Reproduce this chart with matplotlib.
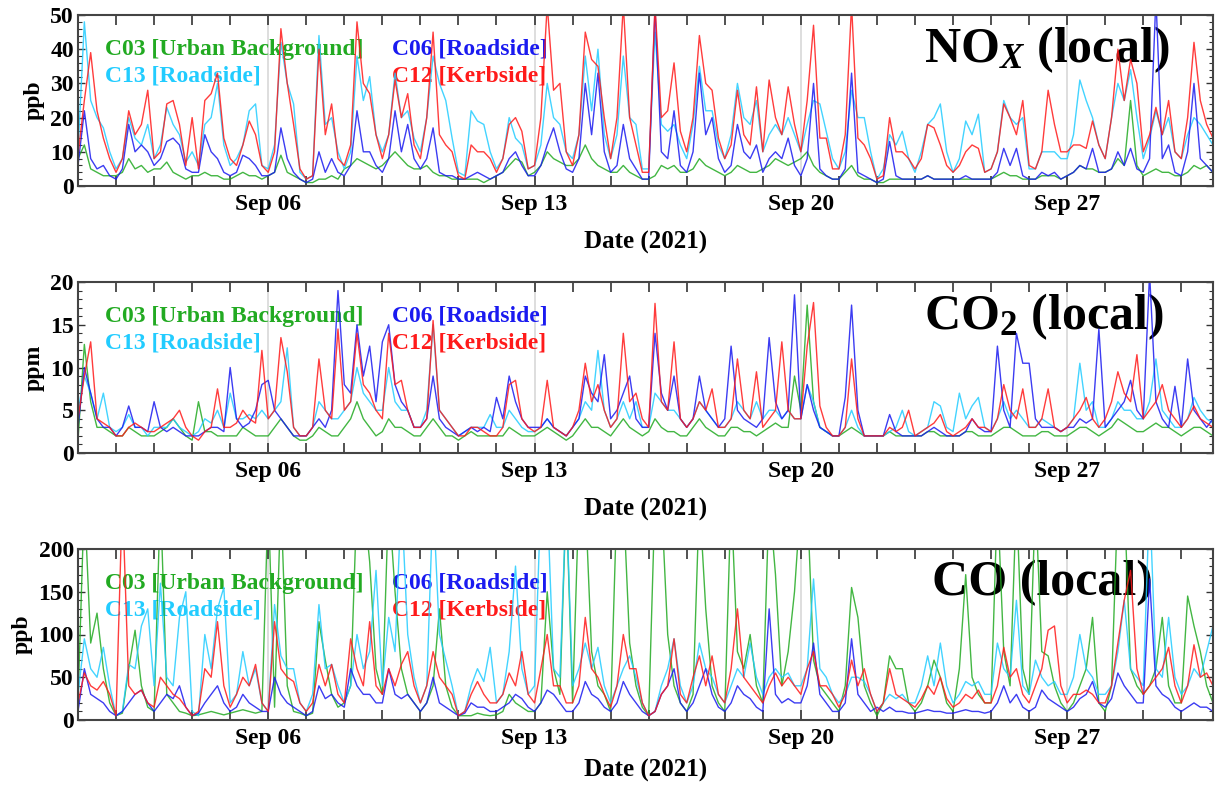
import matplotlib
matplotlib.use("Agg")
import matplotlib.pyplot as plt
import matplotlib.dates as mdates
import numpy as np
import pandas as pd

plt.rcParams['font.family'] = ['Liberation Serif', 'DejaVu Serif']
plt.rcParams['font.weight'] = 'bold'
plt.rcParams['mathtext.fontset'] = 'custom'
plt.rcParams['mathtext.rm'] = 'Liberation Serif:bold'
plt.rcParams['mathtext.it'] = 'Liberation Serif:bold:italic'
plt.rcParams['mathtext.bf'] = 'Liberation Serif:bold'

# ---- data: 4-hourly values (00,04,08,12,16,20 h), Sep 1 - Sep 30 2021 ----
start_date = "2021-09-01 00:00"
step = "4h"

series_names = ["C03 [Urban Background]", "C13 [Roadside]", "C06 [Roadside]", "C12 [Kerbside]"]

nox_c03 = [8,12,5,4,3,3, 3,4,8,5,6,4, 5,5,7,4,3,2, 3,3,4,3,3,2, 2,3,4,3,3,2,
           3,4,9,4,3,2, 1,1,2,2,3,2, 5,6,8,7,6,5, 6,8,10,8,6,5, 5,6,4,3,3,2,
           2,2,2,2,1,2, 3,4,6,8,7,3, 4,6,10,8,7,6, 6,8,12,8,6,5, 4,4,6,4,3,2,
           2,3,6,5,6,4, 4,5,8,6,5,4, 3,4,6,5,4,4, 5,6,8,7,6,7, 8,10,6,4,3,2,
           2,4,6,3,2,2, 1,1,2,2,2,2, 2,2,3,2,2,2, 2,2,2,2,2,2, 2,3,4,3,3,2,
           2,2,3,3,3,2, 3,4,6,5,5,4, 4,5,8,6,25,6, 3,4,5,4,4,3, 3,4,6,5,6,4]
nox_c13 = [10,48,25,20,17,10, 5,8,20,14,12,18, 8,12,23,18,15,7, 10,6,18,20,30,12, 6,8,12,22,24,6,
           5,12,42,30,24,4, 2,3,44,18,20,10, 5,10,38,25,32,15, 10,15,33,20,22,14, 10,20,38,30,25,14,
           4,3,22,19,18,10, 5,8,20,14,12,5, 6,12,30,20,18,10, 8,15,38,22,40,15, 8,15,38,20,18,5,
           5,45,18,16,18,12, 8,18,35,22,22,12, 8,15,30,20,18,25, 10,15,18,15,20,15, 10,18,25,24,16,8,
           5,10,28,20,20,10, 2,5,15,12,16,8, 4,10,18,20,24,10, 4,8,19,15,21,4, 5,10,25,20,18,20,
           5,5,10,10,10,8, 8,15,31,25,20,12, 8,20,30,25,34,20, 8,14,22,15,20,10, 8,15,20,18,15,12]
nox_c06 = [6,22,8,5,6,3, 2,5,18,10,12,10, 6,8,13,14,12,5, 4,4,15,10,8,4, 3,4,9,8,6,3,
           3,4,17,8,4,2, 1,2,10,4,8,4, 3,6,22,10,10,6, 4,8,22,10,18,8, 5,8,17,4,3,3,
           2,2,3,4,3,2, 3,4,8,10,6,3, 3,6,12,17,10,5, 4,8,30,15,33,10, 4,6,18,8,5,2,
           2,52,10,8,22,6, 4,10,33,15,20,8, 4,6,18,10,8,12, 4,8,10,8,14,6, 3,8,30,5,3,2,
           2,5,33,4,3,2, 1,2,13,3,2,2, 2,2,3,2,2,2, 2,2,3,2,2,2, 2,4,11,6,11,3,
           2,2,4,3,4,2, 3,4,6,5,11,4, 4,5,10,6,11,5, 4,8,55,8,12,4, 3,10,30,8,6,4]
nox_c12 = [9,25,39,22,14,8, 4,8,22,15,18,28, 8,10,24,25,18,6, 20,5,25,27,33,14, 8,6,12,19,15,6,
           4,10,46,30,18,5, 2,3,40,15,24,8, 6,12,48,30,27,15, 8,15,31,20,27,12, 8,20,45,15,12,10,
           3,2,12,10,10,8, 4,8,18,20,16,5, 6,20,53,28,30,10, 6,15,45,37,35,20, 8,20,53,20,12,4,
           4,53,20,22,36,16, 10,20,44,30,28,14, 8,12,28,15,12,29, 10,31,20,15,29,18, 10,25,47,14,14,5,
           5,15,53,14,12,8, 2,3,20,10,10,8, 5,8,18,17,12,6, 4,6,10,12,11,4, 5,10,24,20,15,25,
           6,5,10,28,18,10, 10,12,12,11,19,12, 8,20,40,25,37,30, 10,15,23,15,25,10, 8,20,42,25,18,14]

co2_c03 = [1.5,12.7,6,3,3,2.5, 2,2,3,2.5,2,2, 2,2.5,3,4,3,2, 1.5,6,2.5,2.5,2,2, 2,2,3,2.5,2,2,
           2,3,4,3,2,1.5, 1.5,2,3,2.5,2,2, 3,4,6,4,3,2, 2.5,4,3,3,2.5,2, 2,3,4,3,2,2,
           1.5,2,2.5,2,2,2, 2,2,3,2.5,2,2, 2,2.5,3,2.5,2,1.5, 2,3,4,3,3,2.5, 2,3,4,3,2.5,2,
           2.5,4,3,2.5,2.5,2, 2,3,4,3,2.5,2, 2,3,3,2.5,2.5,2, 2.5,3,3.5,3,3,9, 5,17.3,6,3,2.5,2,
           2,2.5,3,2.5,2,2, 2,2,2.5,2,2,2, 2,2,2.5,2.5,2,2, 2,2,2.5,2.5,2,2, 2,2.5,3,3,2.5,2,
           2,2,2.5,2.5,2,2, 2,2.5,3,3,2.5,2, 2.5,3,4,3.5,3,2.5, 2.5,3,3.5,3,3,2.5, 2,2.5,3,3,2.5,2]
co2_c13 = [5,9,7,4,7,3, 2.5,3,4.5,3,3,2, 3,3,3,4,3,2.5, 2,2.5,4,3.5,5,3, 7,4,4,4.5,4,5,
           4,5,6,12.3,3,2, 2,3,6,5,4,4, 5,6,10,7,6,5, 5,10,6,5,5,3, 3,5,15,5,4,3,
           2,2.5,3,3,3,4.5, 3,3,5,4,3,2.5, 2.5,3,4,3,2.5,2, 3,4,6,5,12,5, 3,4,6,4,6,3,
           3,7,6,5,5,4, 3,4,6,5,4,3, 3,4,6,5,4,6, 4,5,5,4,5,4, 4,8,6,3,2.5,2,
           2,3,5,3,2,2, 2,2,2.5,3,5,2.5, 2,2.5,3,6,5.5,3, 2.5,7,4,5.5,6.5,3, 2.5,4,6,4,5,4,
           3,3,4,3.5,3,2.5, 3,4,10.5,5,6,3, 3,4,6,5,5,4, 4,6,11,5,4,3, 3,4,6.5,5,4,3.5]
co2_c06 = [3,10,7,4,3,3, 2,3,5.5,3,3,2.5, 6,3,2.5,3,2.5,2, 2,2,2.5,3,3,2.5, 10,4,3,3.5,5,8,
           8.5,5,4,3,2,2, 2,3,4,3,5,19, 8,7,15,9,12.5,6, 13,15,8,6,5,3, 3,4,9,4,3,2.5,
           2,2.5,3,2.5,3,2.5, 6.5,4,9,6,4,3, 3,3,4,3,2.5,2, 3,4,9,7,6,11.5, 4,5,7,9,4,3,
           3,14,7,5,9,4, 3,4,9,5,4,3, 4,12.5,5,4,3.5,3, 4,13.5,6,4,5,18.5, 4,8,5,3,2.5,2,
           2,6.5,17.3,5,2,2, 2,2,4.5,2.5,2,2, 2,2,2.5,3,2.5,2, 2,2,2.5,4,3,2.5, 2.5,12.5,5,3,14,10.5,
           10.5,4,3,3,3,2.5, 3,3,4,3.5,4,14.5, 3,4,5,6,8.5,5, 4,21,6,4,3,7.8, 3,11,5,4,3,4]
co2_c12 = [4,9,13,4,3.5,3, 2,2,3,3.5,3,2.5, 2.5,3,3.5,4,5,3, 2,1.5,2.5,3,7.5,3, 3,3.5,5,4,3.5,12,
           4,5,13.5,9.5,3,2, 2,3,11,5,4,14.5, 5,6,14,8,7,5, 4,14,8,8.5,5,3, 3,4,15.5,5,4,3,
           2,2,3,3,2.5,2, 2,3,8,8.5,4,3, 2.5,3,8.5,3,2.5,2, 3,5,10.5,6,8,5, 3,4,14,6,7,4,
           3,17.5,6,5,13,4, 3,4,6,5,7.5,3, 3,4,11,5,4,9.5, 3,4,5,13,5,4, 4,12.5,17.6,5.5,3,2,
           2,3,11,4,2,2, 2,2,3,2.5,3,5, 2,2.5,3,3.5,4.5,2.5, 2,2.5,3,4,3,3, 2.5,4,8,5,4,7.5,
           3,3,4,7.5,3,2.5, 3,4,5,6.5,4,3, 4,6,9.5,7,6,11.5, 4,5,6,8,5,4, 3,4,5.5,4,3.5,3]

co_c03 = [20,260,90,125,60,20, 5,8,60,105,40,15, 10,260,30,20,10,8, 5,6,8,10,8,6, 8,10,12,10,8,10,
          260,15,260,40,10,8, 5,8,115,70,30,15, 20,40,260,260,185,60, 30,260,150,60,30,20, 10,20,40,130,40,15,
          5,5,5,8,6,5, 6,10,30,20,15,10, 10,20,150,60,30,260, 20,260,260,80,40,30, 10,260,260,90,40,15,
          5,260,260,100,40,20, 10,30,260,130,40,20, 10,260,80,60,100,40, 20,260,170,40,80,150, 260,260,70,40,30,20,
          10,40,155,120,40,20, 5,20,75,60,60,20, 10,20,40,70,50,20, 10,60,170,50,30,20, 20,260,80,40,260,60,
          30,260,80,75,40,20, 10,20,40,60,120,20, 10,40,260,260,60,40, 30,40,60,120,40,20, 20,145,110,80,40,20]
co_c13 = [30,95,60,50,85,40, 5,10,65,60,110,130, 40,160,50,40,120,150, 10,5,100,60,130,155, 20,30,80,40,60,20,
          10,135,75,60,60,20, 10,30,135,60,65,40, 20,40,100,60,80,175, 40,120,80,260,100,50, 20,40,260,100,70,40,
          5,10,40,60,45,85, 20,30,80,180,60,30, 40,260,260,60,50,260, 40,60,90,60,85,40, 20,40,60,75,50,20,
          5,10,40,60,95,40, 20,40,90,60,50,30, 20,40,60,50,90,50, 30,50,60,50,55,40, 40,60,165,60,50,30,
          20,30,50,50,45,30, 10,20,30,25,30,20, 20,40,75,40,90,40, 20,30,45,40,45,30, 30,90,60,50,140,40,
          30,70,50,40,45,30, 30,50,100,60,50,30, 30,40,80,140,60,50, 40,260,60,50,120,50, 30,40,60,50,80,110]
co_c06 = [10,60,30,25,20,10, 5,10,20,30,35,20, 10,20,30,25,40,15, 5,8,20,30,40,20, 10,15,30,20,15,10,
          10,50,30,20,15,10, 5,10,40,25,30,20, 15,60,40,30,30,20, 20,60,30,25,30,20, 10,20,50,20,15,10,
          5,8,20,15,15,10, 10,15,20,30,25,15, 10,20,35,30,20,10, 10,20,45,30,25,15, 10,20,45,30,20,10,
          5,10,30,40,60,20, 10,20,40,60,30,15, 10,20,40,30,25,15, 10,130,30,20,25,20, 20,40,90,30,20,10,
          10,20,95,30,20,10, 15,10,15,10,10,8, 8,10,12,10,10,8, 8,10,12,10,10,8, 10,20,40,20,30,15,
          10,15,35,25,20,15, 10,15,25,30,45,20, 15,25,55,40,30,20, 20,165,40,30,25,15, 10,15,20,15,15,10]
co_c12 = [20,55,40,35,45,30, 5,260,40,30,35,20, 15,50,40,30,25,15, 5,10,60,50,115,40, 15,30,50,40,65,20,
          10,115,60,50,45,20, 10,20,65,40,65,30, 20,95,60,40,115,40, 30,60,40,65,80,40, 20,40,80,50,40,30,
          5,10,30,45,30,20, 20,30,55,40,80,30, 20,60,100,40,40,20, 20,40,120,60,50,30, 15,40,100,60,60,20,
          5,10,30,40,95,30, 20,50,75,40,75,30, 20,60,130,50,40,30, 20,40,55,40,50,40, 30,60,80,40,40,30,
          15,30,70,40,60,30, 10,20,60,30,25,20, 15,25,40,30,50,25, 15,20,30,25,35,20, 20,40,85,50,60,30,
          20,40,60,105,110,40, 20,30,30,35,30,20, 20,40,90,140,175,60, 30,40,50,60,85,40, 20,40,88,50,55,40]

panel_titles = [r"NO$_{X}$ (local)", r"CO$_{2}$ (local)", "CO (local)"]
units = ["ppb", "ppm", "ppb"]
ylims = [50, 20, 200]
major_steps = [10, 5, 50]
minor_steps = [2, 1, 10]
panel_data = [
    [nox_c03, nox_c13, nox_c06, nox_c12],
    [co2_c03, co2_c13, co2_c06, co2_c12],
    [co_c03, co_c13, co_c06, co_c12],
]
colors = ["#22AA22", "#22CCFF", "#1A1AF0", "#FF1A1A"]

times = pd.date_range(start_date, periods=len(nox_c03), freq=step)

fig = plt.figure(figsize=(12.15, 7.85), dpi=100)
W, H = 1215, 785
panel_px = [(15, 186), (282, 453), (549, 720)]
left_px, right_px = 78, 1213
xlabel_pads = [11, 11, 7]

x0 = pd.Timestamp("2021-09-01 00:00")
x1 = pd.Timestamp("2021-09-30 20:00")

for i, (top, bot) in enumerate(panel_px):
    ax = fig.add_axes([left_px / W, 1 - bot / H, (right_px - left_px) / W, (bot - top) / H])
    for d in ["2021-09-06", "2021-09-13", "2021-09-20", "2021-09-27"]:
        ax.axvline(pd.Timestamp(d), color="#D8D8D8", lw=1.2, zorder=0)
    for vals, col in zip(panel_data[i], colors):
        ax.plot(times, vals, color=col, lw=1.0, alpha=0.85, zorder=2)
    ax.set_xlim(x0, x1)
    ax.set_ylim(0, ylims[i])
    ax.xaxis.set_major_locator(mdates.DayLocator(bymonthday=[6, 13, 20, 27]))
    ax.xaxis.set_minor_locator(mdates.DayLocator())
    ax.xaxis.set_major_formatter(mdates.DateFormatter("%b %d"))
    ax.yaxis.set_major_locator(matplotlib.ticker.MultipleLocator(major_steps[i]))
    ax.yaxis.set_minor_locator(matplotlib.ticker.MultipleLocator(minor_steps[i]))
    ax.tick_params(axis="x", which="both", direction="in", top=True, bottom=True, length=7, width=1.2, colors="#333333",
                   labelcolor="black", labelsize=17, pad=6)
    ax.tick_params(axis="y", which="major", direction="in", left=True, right=True, length=5, width=1.0, colors="#333333",
                   labelcolor="black", labelsize=17, pad=3)
    ax.tick_params(axis="y", which="minor", direction="in", left=True, right=True, length=3, width=0.8, colors="#333333")
    for lab in ax.get_xticklabels() + ax.get_yticklabels():
        lab.set_fontweight("bold")
    for s in ax.spines.values():
        s.set_color("#444444")
        s.set_linewidth(1.5)
    ax.set_ylabel(units[i], fontsize=17, fontweight="bold", labelpad=4)
    ax.set_xlabel("Date (2021)", fontsize=18, fontweight="bold", labelpad=xlabel_pads[i])
    fs = 17
    ax.text(0.024, 0.80, series_names[0], color=colors[0], transform=ax.transAxes, fontsize=fs,
            fontweight="bold", va="center", ha="left", zorder=1)
    ax.text(0.024, 0.643, series_names[1], color=colors[1], transform=ax.transAxes, fontsize=fs,
            fontweight="bold", va="center", ha="left", zorder=1)
    ax.text(0.277, 0.80, series_names[2], color=colors[2], transform=ax.transAxes, fontsize=fs,
            fontweight="bold", va="center", ha="left", zorder=1)
    ax.text(0.277, 0.643, series_names[3], color=colors[3], transform=ax.transAxes, fontsize=fs,
            fontweight="bold", va="center", ha="left", zorder=1)
    tx = [0.962, 0.956, 0.947][i]
    ax.text(tx, 0.80, panel_titles[i], transform=ax.transAxes, fontsize=36, fontweight="bold",
            va="center", ha="right", color="black", zorder=1)

fig.savefig("out.png", dpi=100)
